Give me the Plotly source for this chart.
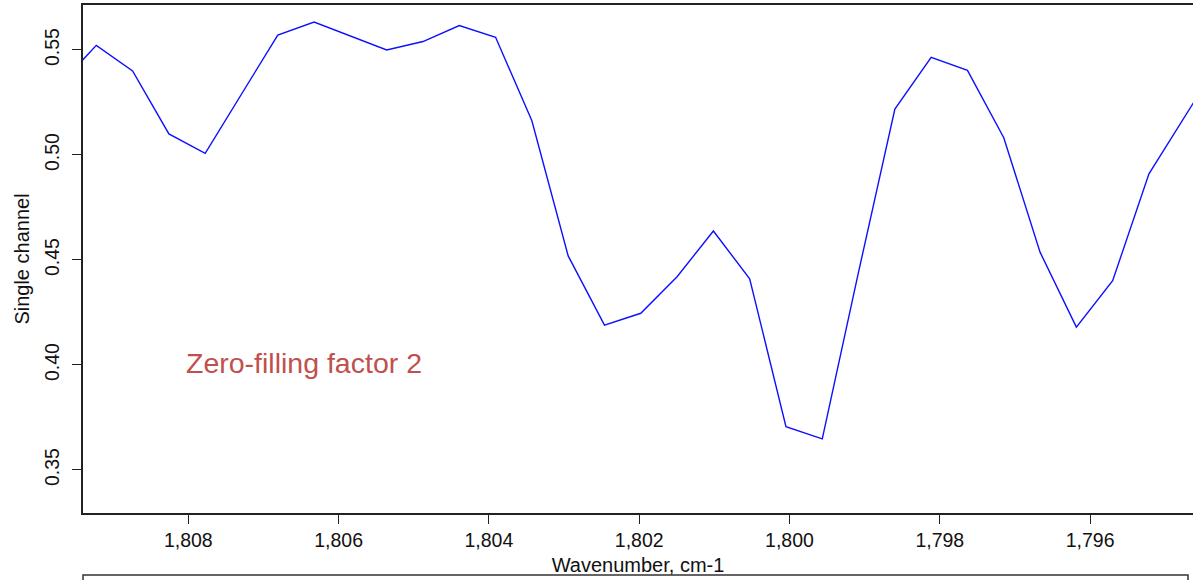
import plotly.graph_objects as go

# Interferogram-derived single-channel spectrum (zero-filling factor 2)
wavenumber = [
    1809.707, 1809.224, 1808.741, 1808.258, 1807.775, 1807.292, 1806.809,
    1806.326, 1805.843, 1805.360, 1804.877, 1804.394, 1803.911, 1803.428,
    1802.945, 1802.462, 1801.979, 1801.496, 1801.013, 1800.530, 1800.047,
    1799.564, 1799.081, 1798.598, 1798.115, 1797.632, 1797.149, 1796.666,
    1796.183, 1795.700, 1795.217, 1794.734, 1794.251,
]
single_channel = [
    0.5336, 0.5522, 0.5400, 0.5100, 0.5008, 0.5290, 0.5571,
    0.5633, 0.5567, 0.5500, 0.5540, 0.5616, 0.5560, 0.5163,
    0.4519, 0.4190, 0.4246, 0.4420, 0.4638, 0.4410, 0.3706,
    0.3648, 0.4443, 0.5218, 0.5465, 0.5403, 0.5082, 0.4537,
    0.4180, 0.4401, 0.4910, 0.5186, 0.5462,
]
x_ticks = [1808, 1806, 1804, 1802, 1800, 1798, 1796]
y_ticks = [0.35, 0.40, 0.45, 0.50, 0.55]

FONT = "Liberation Sans, Arial, sans-serif"

fig = go.Figure()
fig.add_trace(go.Scatter(
    x=wavenumber,
    y=single_channel,
    mode="lines",
    line=dict(color="#0f0fff", width=1.4),
    showlegend=False,
    hoverinfo="skip",
))

fig.add_annotation(
    x=1808.06, y=0.4008, xref="x", yref="y",
    text="Zero-filling factor 2",
    showarrow=False, xanchor="left", yanchor="middle",
    font=dict(family=FONT, size=28.5, color="#c0504d"),
)

# frame of the next panel peeking in below
fig.add_shape(
    type="path", xref="paper", yref="paper",
    path="M 0,-0.2 L 0,-0.122 L 0.9955,-0.122 L 0.9955,-0.2",
    line=dict(color="#333333", width=1.5),
)

fig.update_layout(
    width=1193, height=580,
    margin=dict(l=83, r=0, t=5, b=67),
    paper_bgcolor="white", plot_bgcolor="white",
    font=dict(family=FONT, size=20, color="#111111"),
    xaxis=dict(
        range=[1809.401, 1794.631],
        tickvals=x_ticks, tickformat=",d",
        ticks="outside", ticklen=9, tickwidth=1.2, tickcolor="#222222",
        showline=True, linecolor="#222222", linewidth=1.5, mirror=True,
        showgrid=False, zeroline=False,
        tickfont=dict(size=19.5),
        title=dict(text="Wavenumber, cm-1", font=dict(size=20), standoff=8),
    ),
    yaxis=dict(
        range=[0.3295, 0.5714],
        tickvals=y_ticks, tickformat=".2f", tickangle=-90,
        ticks="outside", ticklen=9, tickwidth=1.2, tickcolor="#222222",
        ticklabelstandoff=5,
        showline=True, linecolor="#222222", linewidth=1.5,
        showgrid=False, zeroline=False,
        tickfont=dict(size=19.5),
        title=dict(text="Single channel", font=dict(size=20), standoff=6),
    ),
)

fig.write_html("out.html")
